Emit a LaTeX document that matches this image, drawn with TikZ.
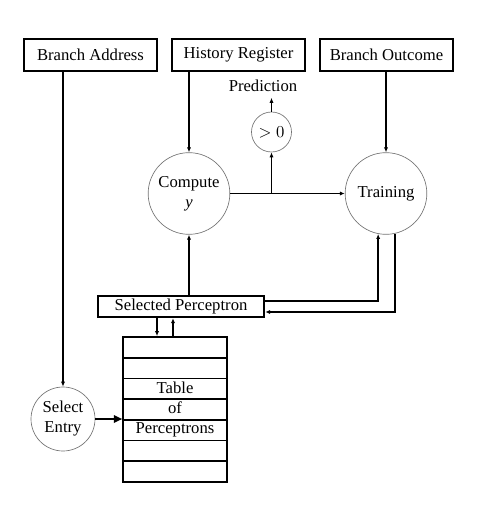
\documentclass[tikz,border=0pt]{standalone}
\usepackage{fontspec}
\setmainfont{Liberation Serif}
\usetikzlibrary{arrows.meta}
\begin{document}
\begin{tikzpicture}
[x=0.6pt,y=-0.6pt,
  boxdecorate/.style={shape=rectangle,draw,line width=1.4pt,inner sep=1pt},%
  circledecorate/.style={shape=circle,draw=black!55,align=center,inner sep=0pt},%
  linedecorate/.style={-{Latex[length=3pt,width=2.5pt]},line width=1pt},%
  bigdecorate/.style={-{Triangle[length=5pt,width=4.5pt]},line width=1pt}]
\useasboundingbox (0,0) rectangle (480,509);
%% input registers
\foreach \nodename/\x/\txt in {addr/90.5/Branch Address, hist/238.5/History Register,
  outc/386.5/Branch Outcome}
{
  \node (\nodename) at (\x,55) [boxdecorate,minimum width=80pt,minimum height=19.2pt] {\txt};
}
%% circles
\foreach \nodename/\x/\y/\d/\txt in {comp/189/193.5/49/Compute\\\textit{y}, train/386/193.5/49/Training,
  gt/271.5/132/24/{$>0$}, sel/63/419/38.4/Select\\Entry}
{
  \node (\nodename) at (\x,\y) [circledecorate,minimum size=\d pt] {\txt};
}
\node (pred) at (263,86) {Prediction};
\node (sp) at (181,306.5) [boxdecorate,minimum width=99.6pt,minimum height=12.6pt] {Selected Perceptron};
\node (tab) at (175,409.5) [draw,line width=1pt,minimum width=62.4pt,minimum height=87pt,align=center]
  {Table\\of\\Perceptrons};
\foreach \i in {1,...,6}
{
  \draw[line width=1pt] (123,{337+\i*20.71}) -- (227,{337+\i*20.71});
}
%% helper points
\coordinate (trin) at (378,301);
\coordinate (trout) at (395,312);
\coordinate (tin) at (157,337);
\coordinate (tout) at (173,337);
\coordinate (split) at (comp.east -| gt);
%% edges or lines
\draw[linedecorate] (addr.south -| sel) -- (sel.north);
\draw[linedecorate] (hist.south -| comp) -- (comp.north);
\draw[linedecorate] (outc.south -| train) -- (train.north);
\draw[linedecorate] (comp.east) -- (train.west);
\draw[linedecorate] (split) -- (gt.south);
\draw[linedecorate] (gt.north) -- (gt.north |- pred.south);
\draw[linedecorate] (comp.south |- sp.north) -- (comp.south);
\draw[linedecorate] (sp.east |- trin) -| (train.-101);
\draw[linedecorate] (train.-77) |- (sp.east |- trout);
\draw[linedecorate] (tin |- sp.south) -- (tab.north -| tin);
\draw[linedecorate] (tab.north -| tout) -- (tout |- sp.south);
\draw[bigdecorate] (sel.east) -- (tab.west |- sel.east);
\end{tikzpicture}
\end{document}
